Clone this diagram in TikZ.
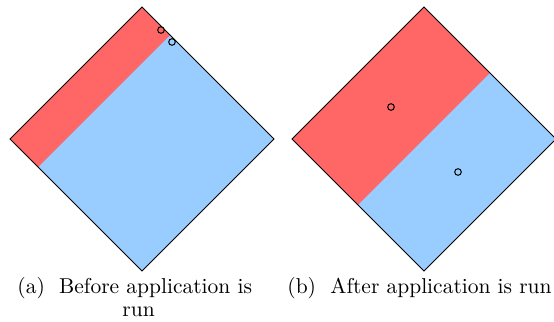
\documentclass[tikz,border=0pt]{standalone}
\usepackage{tikz}
\definecolor{regionred}{RGB}{255,102,102}
\definecolor{regionblue}{RGB}{153,204,255}
\tikzset{
  outline/.style={draw=black, line width=0.5pt, line join=miter},
  marker/.style={draw=black, line width=0.5pt, fill=none},
  captiontext/.style={inner sep=0pt, anchor=base west, font=\fontsize{10.75}{12}\selectfont}
}
\begin{document}
\begin{tikzpicture}[x=0.5pt, y=-0.5pt]
  \useasboundingbox (0,0) rectangle (554,322);
  \clip (0,0) rectangle (554,322);

  % --- left square: before ---
  \coordinate (aT) at (142,7);
  \coordinate (aR) at (274,139);
  \coordinate (aB) at (142,271);
  \coordinate (aL) at (10,139);
  \coordinate (aS1) at (170,35);
  \coordinate (aS2) at (38,167);
  \fill[regionblue] (aT) -- (aR) -- (aB) -- (aL) -- cycle;
  \fill[regionred] (aT) -- (aS1) -- (aS2) -- (aL) -- cycle;
  \draw[outline] (aT) -- (aR) -- (aB) -- (aL) -- cycle;
  \draw[marker] (161,30) circle (3.3);
  \draw[marker] (172,42) circle (3.3);

  % --- right square: after ---
  \coordinate (bT) at (424,7);
  \coordinate (bR) at (556,139);
  \coordinate (bB) at (424,271);
  \coordinate (bL) at (292,139);
  \coordinate (bS1) at (490,73);
  \coordinate (bS2) at (358,205);
  \fill[regionblue] (bT) -- (bR) -- (bB) -- (bL) -- cycle;
  \fill[regionred] (bT) -- (bS1) -- (bS2) -- (bL) -- cycle;
  \draw[outline] (bT) -- (bR) -- (bB) -- (bL) -- cycle;
  \draw[marker] (391,107) circle (3.3);
  \draw[marker] (458,172) circle (3.3);

  % --- captions ---
  \node[captiontext] (capa) at (17,293) {(a)\ \ Before application is};
  \node[captiontext] (capa2) at (122,316) {run};
  \node[captiontext] (capb) at (287,293) {(b)\ \ After application is run};
\end{tikzpicture}
\end{document}
